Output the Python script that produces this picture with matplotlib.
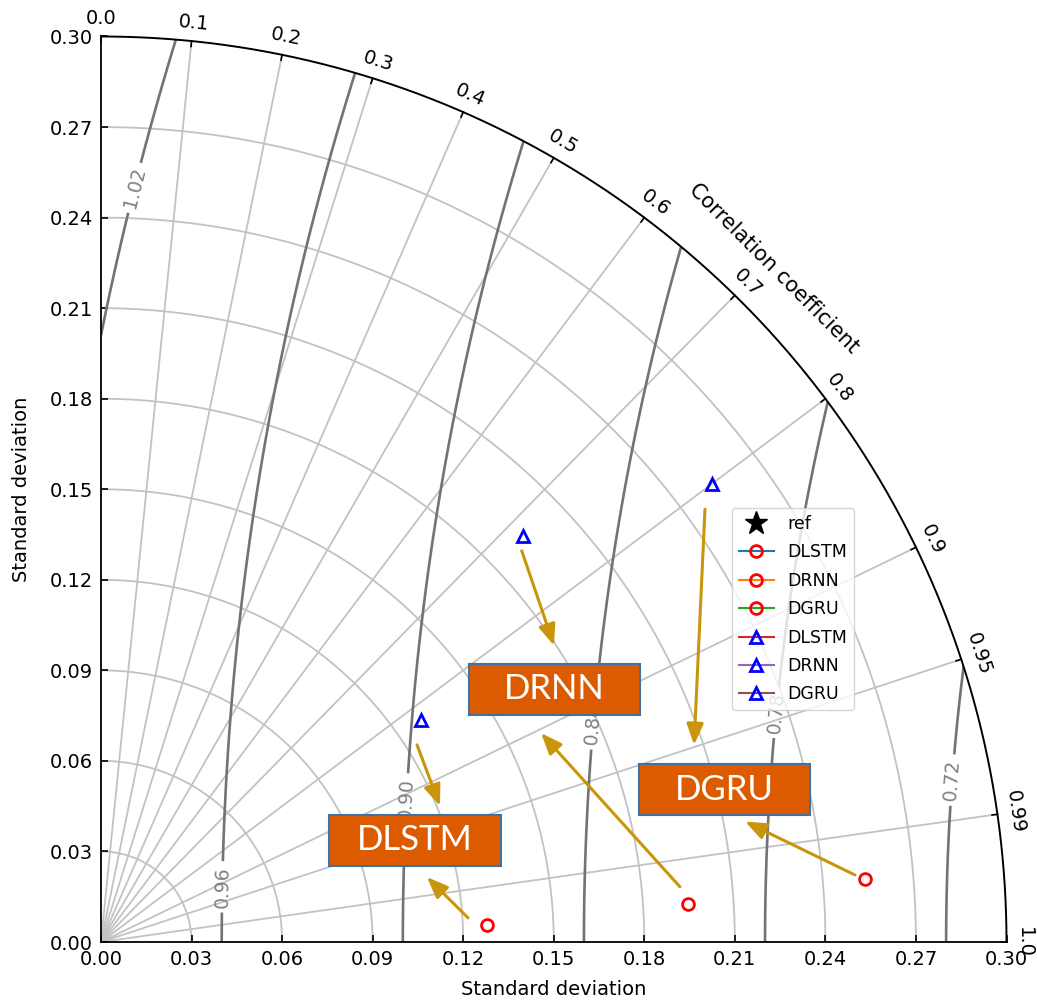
#Diagramma di Taylor: DLSTM, DRNN, DGRU
import numpy as np
import matplotlib.pyplot as plt
from matplotlib.patches import Wedge, Rectangle

# Deviazione standard di riferimento (il punto "ref" cade fuori dal grafico)
ref_std = 1.0
smax = 0.30

# Modelli (cerchi rossi e triangoli blu)
model_names = ['DLSTM', 'DRNN', 'DGRU']
circle_std = [0.128, 0.195, 0.254]
circle_corr = [0.9990, 0.9979, 0.9966]
tri_std = [0.129, 0.194, 0.253]
tri_corr = [0.821, 0.720, 0.800]

# Tick e livelli
std_ticks = [0.00, 0.03, 0.06, 0.09, 0.12, 0.15, 0.18, 0.21, 0.24, 0.27, 0.30]
corr_ticks = [0.0, 0.1, 0.2, 0.3, 0.4, 0.5, 0.6, 0.7, 0.8, 0.9, 0.95, 0.99, 1.0]
rms_levels = [0.72, 0.78, 0.84, 0.90, 0.96, 1.02]

fig = plt.figure(figsize=(10.37, 10.05), dpi=100)
ax = fig.add_axes([101/1037, 63/1005, 905.5/1037, 905.5/1005])

th = np.linspace(0, np.pi/2, 300)

# Griglia: archi di deviazione standard e raggi di correlazione
for s in std_ticks[1:-1]:
    ax.plot(s*np.cos(th), s*np.sin(th), color='0.76', lw=1.3, zorder=1)
for c in corr_ticks[1:-1]:
    t = np.arccos(c)
    ax.plot([0, smax*np.cos(t)], [0, smax*np.sin(t)], color='0.76', lw=1.3, zorder=1)

# Bordo esterno e tick di correlazione
ax.plot(smax*np.cos(th), smax*np.sin(th), color='k', lw=1.4, clip_on=False, zorder=3)
for c in corr_ticks:
    t = np.arccos(c)
    ax.plot([(smax-0.0018)*np.cos(t), smax*np.cos(t)],
            [(smax-0.0018)*np.sin(t), smax*np.sin(t)], color='k', lw=1.2, clip_on=False, zorder=3)
    r = smax + 0.006
    ax.text(r*np.cos(t), r*np.sin(t), str(c), rotation=np.degrees(t)-90,
            ha='center', va='center', rotation_mode='anchor', fontsize=14)
ax.text(0.3155*np.cos(np.pi/4), 0.3155*np.sin(np.pi/4), 'Correlation coefficient',
        rotation=-45, ha='center', va='center', rotation_mode='anchor', fontsize=15)

# Contorni RMS centrati sul riferimento
xs = np.linspace(0, smax, 500)
X, Y = np.meshgrid(xs, xs)
Z = np.hypot(X - ref_std, Y)
cs = ax.contour(X, Y, Z, levels=rms_levels, colors='0.45', linewidths=1.9, zorder=2)
wedge = Wedge((0, 0), smax, 0, 90, transform=ax.transData, fc='none', ec='none')
cs.set_clip_path(wedge)
ax.clabel(cs, inline=True, fontsize=13.5, fmt='%.2f', colors='0.5',
          manual=[(0.0113, 0.2498), (0.0394, 0.0183), (0.1001, 0.0474),
                  (0.156, 0.0729), (0.2223, 0.0762), (0.2813, 0.0537)])

# Punti
ax.plot(ref_std, 0, 'k*', ms=17, label='ref')
for i in range(3):
    t = np.arccos(circle_corr[i])
    ax.plot(circle_std[i]*np.cos(t), circle_std[i]*np.sin(t), marker='o', ms=8.5,
            mfc='none', mec='r', mew=2, ls='-', color='C%d' % i, label=model_names[i], zorder=5)
for i in range(3):
    t = np.arccos(tri_corr[i])
    ax.plot(tri_std[i]*np.cos(t), tri_std[i]*np.sin(t), marker='^', ms=8.5,
            mfc='none', mec='b', mew=2, ls='-', color='C%d' % (i+3), label=model_names[i], zorder=5)

# Riquadri e frecce aggiunti
boxes = [(0.0757, 0.0252, 'DLSTM'), (0.1219, 0.0753, 'DRNN'), (0.1782, 0.0420, 'DGRU')]
for x0, y0, txt in boxes:
    ax.add_patch(Rectangle((x0, y0), 0.0567, 0.0169, fc='#DC5B00', ec='#41719C', lw=1.5, zorder=6))
    ax.text(x0+0.0567/2, y0+0.0169/2, txt, color='white', fontsize=25, family='Lato',
            ha='center', va='center', zorder=7)

arrows = [((0.1394, 0.1296), (0.1501, 0.0982)),
          ((0.2001, 0.1434), (0.1965, 0.0653)),
          ((0.1047, 0.0653), (0.1123, 0.0451)),
          ((0.1216, 0.0080), (0.1080, 0.0215)),
          ((0.1918, 0.0183), (0.1458, 0.0692)),
          ((0.2498, 0.0222), (0.2134, 0.0399))]
for tail, head in arrows:
    ax.annotate('', xy=head, xytext=tail,
                arrowprops=dict(arrowstyle='-|>,head_length=0.75,head_width=0.3', color='#C9950C',
                                lw=2.2, shrinkA=0, shrinkB=0, mutation_scale=17), zorder=6)

ax.set_xlim(0, smax)
ax.set_ylim(0, smax)
ax.set_xticks(std_ticks)
ax.set_yticks(std_ticks)
ax.set_xticklabels(['%.2f' % s for s in std_ticks])
ax.set_yticklabels(['%.2f' % s for s in std_ticks])
ax.spines[['top', 'right']].set_visible(False)
ax.spines[['left', 'bottom']].set_linewidth(1.3)
ax.tick_params(direction='in', length=5, width=1.2, labelsize=14, pad=6)
ax.set_xlabel('Standard deviation', fontsize=14, labelpad=8)
ax.set_ylabel('Standard deviation', fontsize=14, labelpad=13)

ax.legend(loc='upper left', bbox_to_anchor=(732/1037, 1-508/1005),
          bbox_transform=fig.transFigure, borderaxespad=0, fontsize=12.5,
          labelspacing=0.6, numpoints=1)

plt.savefig('out.png', dpi=100)
